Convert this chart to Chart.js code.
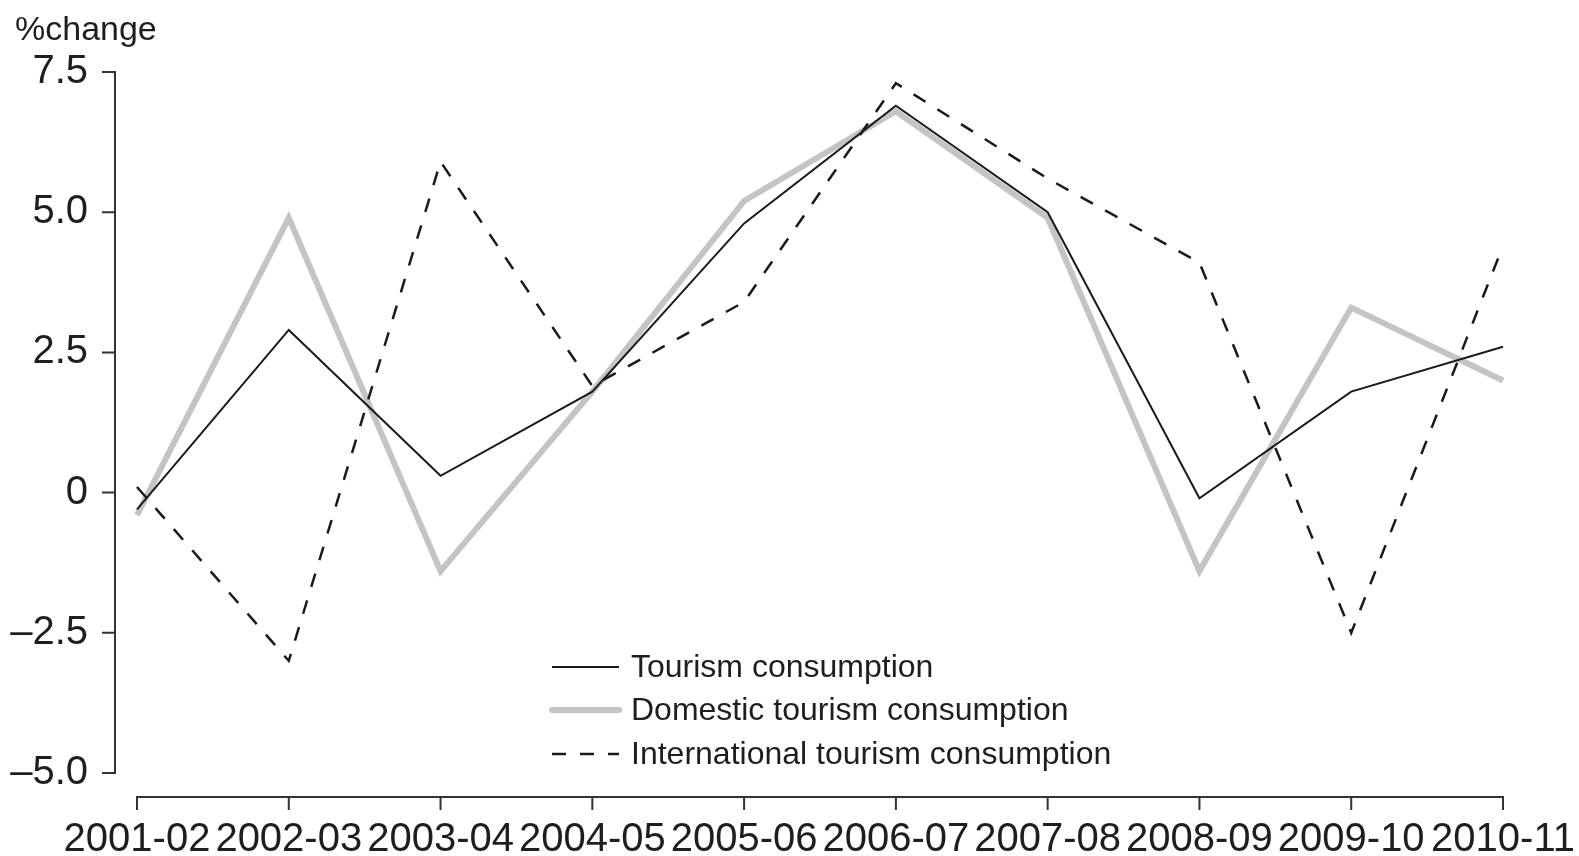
<!DOCTYPE html>
<html>
<head>
<meta charset="utf-8">
<script src="https://cdn.jsdelivr.net/npm/chart.js@4.4.0/dist/chart.umd.min.js"></script>
<style>
html, body { margin: 0; padding: 0; background: #fff; }
</style>
</head>
<body>
<canvas id="grafico" width="1579" height="856"></canvas>
<script>
var anni = ['2001-02', '2002-03', '2003-04', '2004-05', '2005-06', '2006-07', '2007-08', '2008-09', '2009-10', '2010-11'];
var tourism = [-0.3, 2.9, 0.3, 1.8, 4.8, 6.9, 5.0, -0.1, 1.8, 2.6];
var domestic = [-0.4, 4.9, -1.4, 1.8, 5.2, 6.8, 4.9, -1.4, 3.3, 2.0];
var international = [0.1, -3.0, 5.9, 1.9, 3.4, 7.3, 5.6, 4.1, -2.5, 4.4];
var yTicks = [-5, -2.5, 0, 2.5, 5, 7.5];
var unita = '%change';

var FONT = "'Liberation Sans', Arial, sans-serif";
var TESTO = '#1e1e1e';

// assi staccati dall'area del grafico + titolo + legenda
var assiPlugin = {
    id: 'assi',
    afterDraw: function(chart) {
        var ctx = chart.ctx;
        var area = chart.chartArea;
        var x = chart.scales.x, y = chart.scales.y;
        ctx.save();
        ctx.strokeStyle = '#333';
        ctx.lineWidth = 2;
        // asse y
        var ax = area.left - 22;
        ctx.beginPath();
        ctx.moveTo(ax, y.getPixelForValue(yTicks[yTicks.length - 1]));
        ctx.lineTo(ax, y.getPixelForValue(yTicks[0]));
        yTicks.forEach(function(v) {
            var py = y.getPixelForValue(v);
            ctx.moveTo(ax - 13, py);
            ctx.lineTo(ax + 1, py);
        });
        ctx.stroke();
        // asse x
        var ay = area.bottom + 24;
        ctx.beginPath();
        ctx.moveTo(x.getPixelForValue(0) - 1, ay);
        ctx.lineTo(x.getPixelForValue(anni.length - 1) + 1, ay);
        anni.forEach(function(a, i) {
            var px = x.getPixelForValue(i);
            ctx.moveTo(px, ay - 1);
            ctx.lineTo(px, ay + 13);
        });
        ctx.stroke();

        // titolo asse
        ctx.fillStyle = TESTO;
        ctx.font = '34px ' + FONT;
        ctx.textBaseline = 'alphabetic';
        ctx.textAlign = 'left';
        ctx.fillText(unita, 15, 40);

        // legenda
        var righe = [667, 710, 754];
        ctx.font = '32px ' + FONT;
        ctx.textBaseline = 'middle';
        chart.data.datasets.forEach(function(ds, i) {
            var ly = righe[i];
            ctx.save();
            ctx.strokeStyle = ds.borderColor;
            ctx.lineWidth = ds.borderWidth;
            ctx.setLineDash(ds.borderDash || []);
            ctx.lineCap = ds.borderWidth > 3 ? 'round' : 'butt';
            ctx.beginPath();
            ctx.moveTo(552, ly);
            ctx.lineTo(619, ly);
            ctx.stroke();
            ctx.restore();
            ctx.fillText(ds.label, 631, ly + 1);
        });
        ctx.restore();
    }
};

new Chart(document.getElementById('grafico'), {
    type: 'line',
    data: {
        labels: anni,
        datasets: [{
            label: 'Tourism consumption',
            data: tourism,
            borderColor: '#1a1a1a',
            borderWidth: 2,
            order: 1
        }, {
            label: 'Domestic tourism consumption',
            data: domestic,
            borderColor: '#c4c4c4',
            borderWidth: 6,
            order: 3
        }, {
            label: 'International tourism consumption',
            data: international,
            borderColor: '#1a1a1a',
            borderWidth: 2.5,
            borderDash: [14, 14],
            order: 2
        }]
    },
    options: {
        responsive: false,
        devicePixelRatio: 1,
        animation: false,
        layout: { padding: { top: 72, right: 76, bottom: 0, left: 0 } },
        elements: {
            point: { radius: 0, hoverRadius: 0 },
            line: { tension: 0, fill: false }
        },
        plugins: {
            legend: { display: false },
            tooltip: { enabled: false }
        },
        scales: {
            x: {
                offset: false,
                grid: { display: false, drawTicks: false },
                border: { display: false },
                ticks: {
                    color: TESTO,
                    font: { family: FONT, size: 40 },
                    padding: 43,
                    maxRotation: 0,
                    autoSkip: false
                },
                afterFit: function(s) {
                    s.height = 83;
                    s.paddingLeft = 0;
                    s.paddingRight = 0;
                }
            },
            y: {
                min: -5,
                max: 7.5,
                grid: { display: false, drawTicks: false },
                border: { display: false },
                afterBuildTicks: function(s) {
                    s.ticks = yTicks.map(function(v) { return { value: v }; });
                },
                ticks: {
                    color: TESTO,
                    font: { family: FONT, size: 40 },
                    padding: 49,
                    callback: function(v) {
                        return v === 0 ? '0' : v.toFixed(1).replace('-', '\u2013');
                    }
                },
                afterFit: function(s) {
                    s.width = 137;
                    s.paddingTop = 0;
                    s.paddingBottom = 0;
                }
            }
        }
    },
    plugins: [assiPlugin]
});
</script>
</body>
</html>
